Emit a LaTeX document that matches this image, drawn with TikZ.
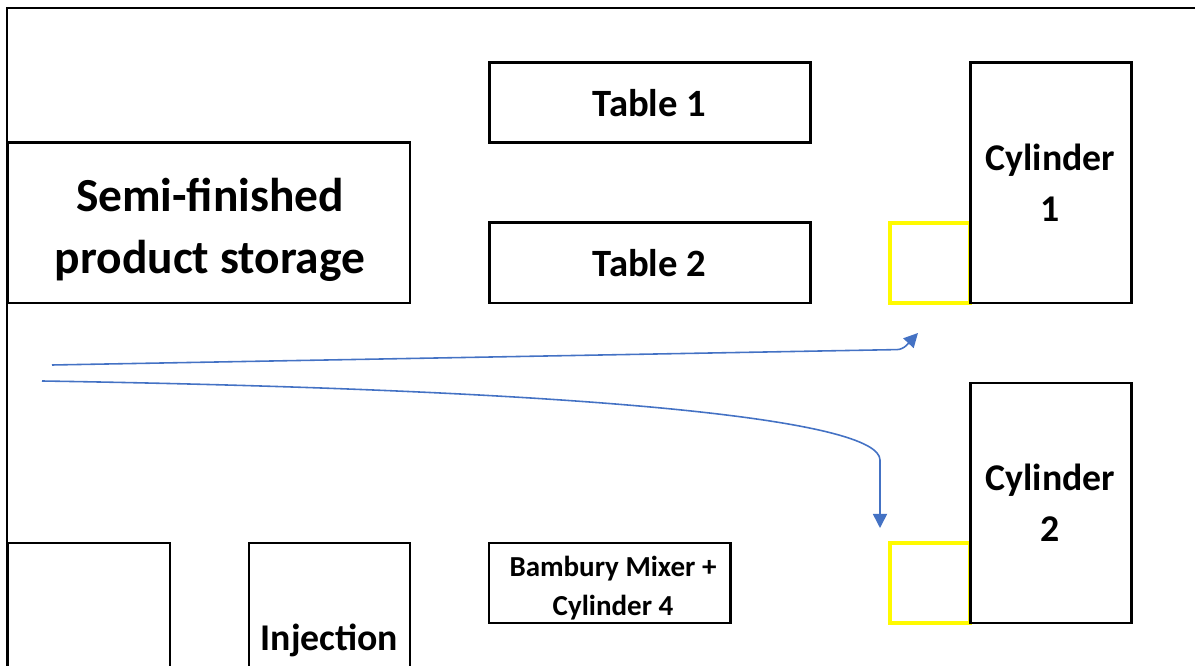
\documentclass[tikz,border=0pt]{standalone}
\usepackage{fontspec}
\setmainfont{Carlito}
\usepackage{xcolor}
\usetikzlibrary{arrows.meta}
\definecolor{flowblue}{RGB}{68,114,196}
\definecolor{markyellow}{RGB}{255,250,0}

\tikzset{
  box/.style={draw=black, line width=1.7pt, inner sep=0pt, align=center, font=\bfseries},
  spot/.style={draw=markyellow, line width=2.8pt, inner sep=0pt, minimum width=1.6cm, minimum height=1.6cm},
  flow/.style={flowblue, line width=0.9pt, -{Triangle[length=8pt,width=8pt]}}
}

\begin{document}
\begin{tikzpicture}
  \clip (0,0) rectangle (23.9,-13.32);
  \draw[line width=1.4pt] (0.14,-13.6) |- (24.2,-0.16);

  \node[box, minimum width=8.04cm, minimum height=3.2cm] (storage) at (4.18,-4.46) {};
  \node[font=\bfseries\fontsize{27}{35.5}\selectfont, align=center] (storetext) at (4.2,-4.6) {Semi-finished\\product storage};
  \node[box, minimum width=6.42cm, minimum height=1.6cm, font=\bfseries\fontsize{22}{28}\selectfont] (table1) at (12.99,-2.06) {Table 1};
  \node[box, minimum width=6.42cm, minimum height=1.6cm, font=\bfseries\fontsize{22}{28}\selectfont] (table2) at (12.99,-5.26) {Table 2};

  \node[spot] (load1) at (18.6,-5.26) {};
  \node[spot] (load2) at (18.6,-11.66) {};
  \node[box, minimum width=3.22cm, minimum height=4.8cm, font=\bfseries\fontsize{21.5}{29}\selectfont] (cyl1) at (21.01,-3.66) {Cylinder\\1};
  \node[box, minimum width=3.22cm, minimum height=4.8cm, font=\bfseries\fontsize{21.5}{29}\selectfont] (cyl2) at (21.01,-10.06) {Cylinder\\2};

  \node[box, minimum width=4.82cm, minimum height=1.6cm] (mixer) at (12.19,-11.66) {};
  \node[font=\bfseries\fontsize{16.5}{22.5}\selectfont, align=center] (mixtext) at (12.26,-11.76) {Bambury Mixer +\\Cylinder 4};
  \node[box, minimum width=3.24cm, minimum height=4.8cm] (side) at (1.78,-13.26) {};
  \node[box, minimum width=3.22cm, minimum height=4.8cm] (injection) at (6.59,-13.26) {};
  \node[font=\bfseries\fontsize{21.5}{29}\selectfont] (injtext) at (6.59,-12.8) {Injection};

  \coordinate (inA) at (1.04,-7.3);
  \coordinate (kinkA) at (18.05,-6.99);
  \coordinate (toA) at (18.36,-6.66);
  \coordinate (inB) at (0.84,-7.62);
  \coordinate (bendB) at (17.6,-9.2);
  \coordinate (toB) at (17.6,-10.56);
  \draw[flow, rounded corners=3pt] (inA) -- (kinkA) -- (toA);
  \draw[flow] (inB) .. controls (12,-7.8) and (17.6,-8.4) .. (bendB) -- (toB);
\end{tikzpicture}
\end{document}
